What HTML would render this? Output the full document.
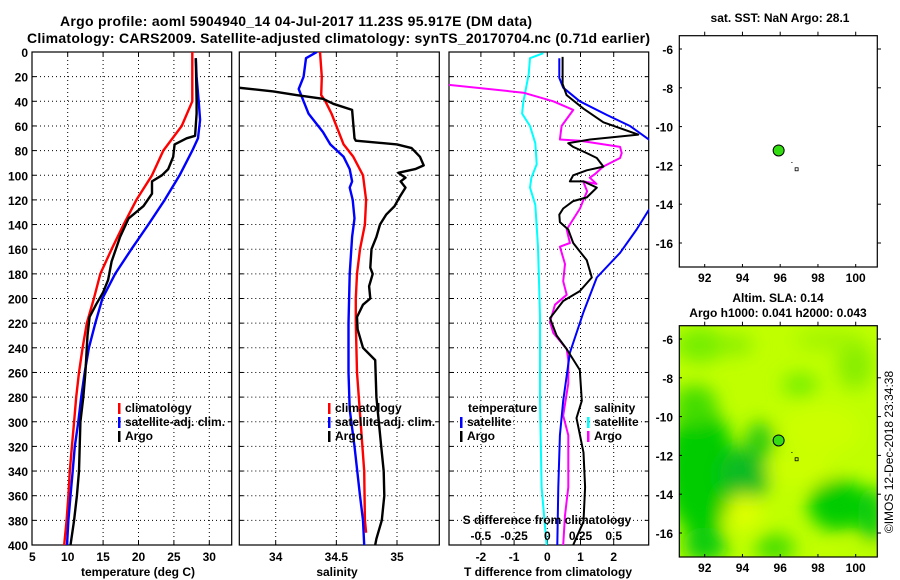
<!DOCTYPE html>
<html><head><meta charset="utf-8">
<style>
html,body{margin:0;padding:0;background:#fff;}
svg{display:block;font-family:"Liberation Sans",sans-serif;font-weight:bold;}
text{font-size:12px;fill:#000;}
</style></head>
<body>
<svg id="fig" width="900" height="580" viewBox="0 0 900 580">
<defs>
<clipPath id="c1"><rect x="32" y="52" width="200" height="493"/></clipPath>
<clipPath id="c2"><rect x="239" y="52" width="200" height="493"/></clipPath>
<clipPath id="c3"><rect x="449" y="52" width="200" height="493"/></clipPath>
<clipPath id="cm"><rect x="679" y="326" width="198" height="231"/></clipPath>
<filter id="bl" x="-50%" y="-50%" width="200%" height="200%"><feGaussianBlur stdDeviation="9"/></filter>
</defs>
<text x="60" y="26" textLength="472" style="font-size:14px">Argo profile: aoml 5904940_14 04-Jul-2017 11.23S 95.917E (DM data)</text>
<text x="27" y="43" textLength="623" style="font-size:14px">Climatology: CARS2009. Satellite-adjusted climatology: synTS_20170704.nc (0.71d earlier)</text>
<g id="maps"></g>
<g id="plots"></g>
</svg>
<script>
// ---------- data ----------
const tempDepths = [0,40,60,80,100,120,140,160,180,200,220,240,260,280,300,320,340,360,380,400];
const tempClim   = [27.6,27.6,26.1,23.5,21.9,19.7,17.9,16.2,14.6,13.7,12.7,12.1,11.6,11.2,10.9,10.6,10.3,10.1,9.85,9.5];
const tempSatDepths = [5,20,40,55,70,80,100,120,140,160,180,200,220,240,260,280,300,320,340,360,380,400];
const tempSat    = [28.1,28.2,28.5,28.7,28.4,27.6,25.8,23.7,21.4,19.0,16.7,14.9,13.9,13.0,12.4,11.9,11.5,11.0,10.7,10.4,10.1,9.9];
const tempArgoDepths = [5,40,50,68,70,75,85,95,100,105,115,125,135,150,170,185,195,205,215,230,260,280,300,340,360,380,400];
const tempArgo   = [28.1,28.2,28.2,28.0,26.8,25.1,24.9,24.2,23.3,21.9,21.9,20.7,18.6,17.4,16.2,15.7,15.0,14.0,13.1,12.8,12.5,12.2,11.8,11.6,11.3,10.9,10.4];

const salClimDepths = [0,20,35,40,50,60,75,85,100,120,140,160,180,200,220,260,300,340,380,390];
const salClim    = [34.365,34.38,34.375,34.41,34.46,34.5,34.56,34.64,34.72,34.745,34.735,34.695,34.67,34.66,34.66,34.67,34.70,34.73,34.735,34.745];
const salSatDepths = [0,5,20,30,40,50,65,75,85,95,105,110,120,135,150,180,220,260,290,320,360,380,400];
const salSat     = [34.34,34.25,34.23,34.19,34.23,34.27,34.39,34.45,34.56,34.61,34.63,34.61,34.635,34.65,34.63,34.61,34.6,34.6,34.61,34.65,34.695,34.72,34.73];
const salArgoDepths = [28,32,35,38,42,47,70,72,75,78,85,92,95,98,102,105,110,118,125,132,140,150,160,175,180,190,200,205,215,225,240,250,280,300,320,340,360,380,395,400];
const salArgo    = [33.6,33.98,34.17,34.39,34.475,34.63,34.65,34.66,35.0,35.12,35.19,35.22,35.15,35.01,35.07,35.03,35.07,35.02,34.98,34.91,34.86,34.83,34.79,34.78,34.8,34.77,34.78,34.72,34.67,34.675,34.72,34.82,34.83,34.85,34.87,34.89,34.895,34.875,34.83,34.82];

const dSatSDepths = [1,5,18,35,40,50,60,74,91,102,110,124,158,214,283,353,400];
const dSatS      = [-0.03,-0.13,-0.14,-0.17,-0.18,-0.19,-0.13,-0.09,-0.08,-0.12,-0.13,-0.09,-0.07,-0.055,-0.055,-0.043,-0.005];
const dArgoSDepths = [26,33,40,47,60,71,72,77,82,86,93,99,102,107,105,113,118,127,144,155,158,172,186,197,205,219,228,241,250,269,295,311,353,376,400];
const dArgoS     = [-0.8,-0.18,0.045,0.196,0.108,0.095,0.246,0.548,0.56,0.548,0.42,0.36,0.32,0.37,0.27,0.30,0.28,0.246,0.146,0.17,0.095,0.133,0.12,0.146,0.058,0.02,0.045,0.146,0.158,0.158,0.12,0.158,0.158,0.133,0.12];
const dSatTDepths = [5,21,29,40,51,60,71,100,128,144,163,183,211,244,283,311,353,400];
const dSatT      = [0.36,0.36,0.48,0.98,1.79,2.49,3.06,4.5,3.06,2.69,2.19,1.49,1.09,0.68,0.48,0.38,0.33,0.30];
const dArgoTDepths = [4,26,35,46,57,67,71,74,77,82,86,93,96,100,105,105,110,118,121,127,132,138,144,155,169,183,194,202,216,230,241,258,283,297,325,353,381,400];
const dArgoT     = [0.46,0.46,0.58,1.09,1.69,2.74,1.29,0.63,0.78,1.19,1.49,1.69,1.19,0.78,0.68,1.09,1.49,1.19,0.78,0.48,0.36,0.38,0.63,0.78,1.19,1.34,0.98,0.48,0.08,0.28,0.58,0.98,1.04,0.88,1.09,1.14,1.09,0.78];

const depthTicks = [0,20,40,60,80,100,120,140,160,180,200,220,240,260,280,300,320,340,360,380,400];
const tempTicks = [5,10,15,20,25,30];
const salTicks = [34,34.5,35];
const salTickLabels = ["34","34.5","35"];
const dTTicks = [-2,-1,0,1,2];
const dSTicks = [-0.5,-0.25,0,0.25,0.5];
const dSTickLabels = ["-0.5","-0.25","0","0.25","0.5"];
const lonTicks = [92,94,96,98,100];
const latTicks = [-6,-8,-10,-12,-14,-16];
const argoPos = [95.917,-11.23];

// ---------- helpers ----------
const NS="http://www.w3.org/2000/svg";
const plots=document.getElementById('plots');
const maps=document.getElementById('maps');
function mk(tag,attrs,parent){const e=document.createElementNS(NS,tag);for(const k in attrs)e.setAttribute(k,attrs[k]);(parent||plots).appendChild(e);return e;}
const Y0=52,Y1=545;
function yD(d){return Y0+(d/400)*(Y1-Y0);}
function lin(d0,d1,r0,r1){return v=>r0+(v-d0)/(d1-d0)*(r1-r0);}

const xT=lin(5,30,32.3,209.3);
const xS=lin(34,35,275.7,397);
const xDT=lin(0,2,547.3,613.7);
const xDS=v=>xDT(v*4);

function panel(x0,x1,name){
  const r=mk('rect',{x:x0,y:Y0,width:x1-x0,height:Y1-Y0,fill:'none',stroke:'#000','stroke-width':1.2});
  
  
  depthTicks.forEach(d=>{
    if(d===0||d===400)return;
    const g=mk('line',{x1:x0,x2:x1,y1:yD(d),y2:yD(d),stroke:'#000','stroke-width':1,'stroke-dasharray':'1,3'});
    
    
    mk('line',{x1:x0,x2:x0+4,y1:yD(d),y2:yD(d),stroke:'#000'});
    mk('line',{x1:x1-4,x2:x1,y1:yD(d),y2:yD(d),stroke:'#000'});
  });
}
function vgrid(xs,scale,x0,x1,name){
  xs.forEach(v=>{const x=scale(v);if(x<=x0+1||x>=x1-1)return;
    const g=mk('line',{x1:x,x2:x,y1:Y0,y2:Y1,stroke:'#000','stroke-width':1,'stroke-dasharray':'1,3'});
    
    
    mk('line',{x1:x,x2:x,y1:Y0,y2:Y0+4,stroke:'#000'});
    mk('line',{x1:x,x2:x,y1:Y1-4,y2:Y1,stroke:'#000'});
  });
}
function series(vals,depths,scale,color,clip,name,w){
  const pts=vals.map((v,i)=>scale(v).toFixed(1)+','+yD(depths[i]).toFixed(1)).join(' ');
  const p=mk('polyline',{points:pts,fill:'none',stroke:color,'stroke-width':w||2.4,'stroke-linejoin':'round','clip-path':'url(#'+clip+')'});
  
  
}
function txt(x,y,s,anchor,name,extra){
  const t=mk('text',Object.assign({x:x,y:y,'text-anchor':anchor||'start'},extra||{}));
  t.textContent=s;
  
  
  return t;
}
function legendItem(x,y,color,label,name){
  const m=mk('rect',{x:x,y:y-9,width:2.5,height:11,fill:color});
  
  
  txt(x+7,y,label,'start',name);
}

// ---------- panel 1 temperature ----------
panel(32,231.7,'temperature-panel');
vgrid(tempTicks,xT,32,231.7,'temperature');
depthTicks.forEach(d=>txt(28,yD(d)+5,String(d),'end','depth-tick-label'));
tempTicks.forEach(v=>txt(xT(v),561,String(v),'middle','temperature-tick-label'));
txt(138,576,'temperature (deg C)','middle','temperature-axis-title');
series(tempClim,tempDepths,xT,'#ff0000','c1','temperature-climatology-line');
series(tempSat,tempSatDepths,xT,'#0000ff','c1','temperature-satellite-line');
series(tempArgo,tempArgoDepths,xT,'#000000','c1','temperature-argo-line');
legendItem(118,412,'#ff0000','climatology','legend-climatology');
legendItem(118,426,'#0000ff','satellite-adj. clim.','legend-satellite-adj');
legendItem(118,440,'#000000','Argo','legend-argo');

// ---------- panel 2 salinity ----------
panel(239.3,439.3,'salinity-panel');
vgrid(salTicks,xS,239.3,439.3,'salinity');
salTicks.forEach((v,i)=>txt(xS(v),561,salTickLabels[i],'middle','salinity-tick-label'));
txt(337,576,'salinity','middle','salinity-axis-title');
series(salClim,salClimDepths,xS,'#ff0000','c2','salinity-climatology-line');
series(salSat,salSatDepths,xS,'#0000ff','c2','salinity-satellite-line');
series(salArgo,salArgoDepths,xS,'#000000','c2','salinity-argo-line');
legendItem(328,412,'#ff0000','climatology','legend-climatology-2');
legendItem(328,426,'#0000ff','satellite-adj. clim.','legend-satellite-adj-2');
legendItem(328,440,'#000000','Argo','legend-argo-2');

// ---------- panel 3 differences ----------
panel(449,648.7,'difference-panel');
vgrid(dTTicks,xDT,449,648.7,'difference');
dTTicks.forEach(v=>txt(xDT(v),561,String(v),'middle','t-difference-tick-label'));
txt(548,576,'T difference from climatology','middle','t-difference-axis-title');
series(dSatS,dSatSDepths,xDS,'#00ffff','c3','s-difference-satellite-line',2);
series(dArgoS,dArgoSDepths,xDS,'#ff00ff','c3','s-difference-argo-line',2);
series(dSatT,dSatTDepths,xDT,'#0000ff','c3','t-difference-satellite-line',2);
series(dArgoT,dArgoTDepths,xDT,'#000000','c3','t-difference-argo-line',2);
txt(547,524,'S difference from climatology','middle','s-difference-axis-title');
dSTicks.forEach((v,i)=>txt(xDS(v),540,dSTickLabels[i],'middle','s-difference-tick-label'));
txt(468,412,'temperature','start','legend-temperature-heading');
legendItem(460,426,'#0000ff','satellite','legend-t-satellite');
legendItem(460,440,'#000000','Argo','legend-t-argo');
txt(594,412,'salinity','start','legend-salinity-heading');
legendItem(587,426,'#00ffff','satellite','legend-s-satellite');
legendItem(587,440,'#ff00ff','Argo','legend-s-argo');

// ---------- maps ----------
const mx=lin(92,100,704.7,855.7);
function mapFrame(top,bot,name){
  const my=lin(-6,-16,top+13.3,top+207.3);
  const r=mk('rect',{x:679.3,y:top,width:198,height:bot-top,fill:'none',stroke:'#000','stroke-width':1.2},maps);
  
  
  lonTicks.forEach(v=>{const x=mx(v);
    mk('line',{x1:x,x2:x,y1:top,y2:top-4,stroke:'#000'},maps);
    mk('line',{x1:x,x2:x,y1:bot,y2:bot-3,stroke:'#000'},maps);
    const t=mk('text',{x:x,y:bot+15,'text-anchor':'middle'},maps);t.textContent=String(v);
    
    
  });
  latTicks.forEach(v=>{const y=my(v);
    mk('line',{x1:877.3,x2:881,y1:y,y2:y,stroke:'#000'},maps);
    mk('line',{x1:679.3,x2:682,y1:y,y2:y,stroke:'#000'},maps);
    const t=mk('text',{x:673,y:y+5,'text-anchor':'end'},maps);t.textContent=String(v);
    
    
  });
  const c=mk('circle',{cx:mx(argoPos[0]),cy:my(argoPos[1]),r:5.5,fill:'#33dd11',stroke:'#000','stroke-width':1},maps);
  
  
  mk('rect',{x:mx(96.62)-0.5,y:my(-11.85)-0.5,width:1,height:1,fill:'#000'},maps);
  mk('rect',{x:mx(96.87)-1.5,y:my(-12.2)-1.5,width:3,height:3,fill:'none',stroke:'#000','stroke-width':0.8},maps);
}
// SLA background
const bg=mk('g',{'clip-path':'url(#cm)'},maps);


mk('rect',{x:679,y:326,width:198,height:231,fill:'#c0ff00'},bg);
const blobs=mk('g',{filter:'url(#bl)'},bg);
[
 [700,345,25,18,'#77ee00'],[735,345,18,10,'#88ee00'],[855,365,18,25,'#88ee00'],[800,385,18,12,'#77ee00'],
 [830,340,35,10,'#a0f400'],
 [700,470,35,65,'#00cc00'],[745,475,25,28,'#11bb22'],[760,440,15,18,'#33cc11'],[695,405,22,20,'#44dd00'],
 [744,512,18,18,'#ddff00'],[705,545,22,18,'#11cc11'],[775,548,20,14,'#44dd00'],
 [838,505,30,26,'#00cc00'],[872,515,14,28,'#11cc11'],[858,556,22,8,'#bbff00'],
 [820,430,40,25,'#ccff00'],[800,470,35,15,'#ccff00']
].forEach(b=>mk('ellipse',{cx:b[0],cy:b[1],rx:b[2],ry:b[3],fill:b[4]},blobs));
mapFrame(35.7,267,'sst-map');
mapFrame(325.7,557,'sla-map');
const t1=mk('text',{x:780,y:22,'text-anchor':'middle'},maps);t1.textContent='sat. SST: NaN Argo: 28.1';


const t2=mk('text',{x:778,y:302,'text-anchor':'middle'},maps);t2.textContent='Altim. SLA: 0.14';


const t3=mk('text',{x:778,y:317,'text-anchor':'middle'},maps);t3.textContent='Argo h1000: 0.041 h2000: 0.043';


const cr=mk('text',{x:0,y:0,'text-anchor':'middle',transform:'translate(893,452) rotate(-90)',style:'font-weight:normal'},maps);
cr.textContent='©IMOS 12-Dec-2018 23:34:38';


</script>
</body></html>
